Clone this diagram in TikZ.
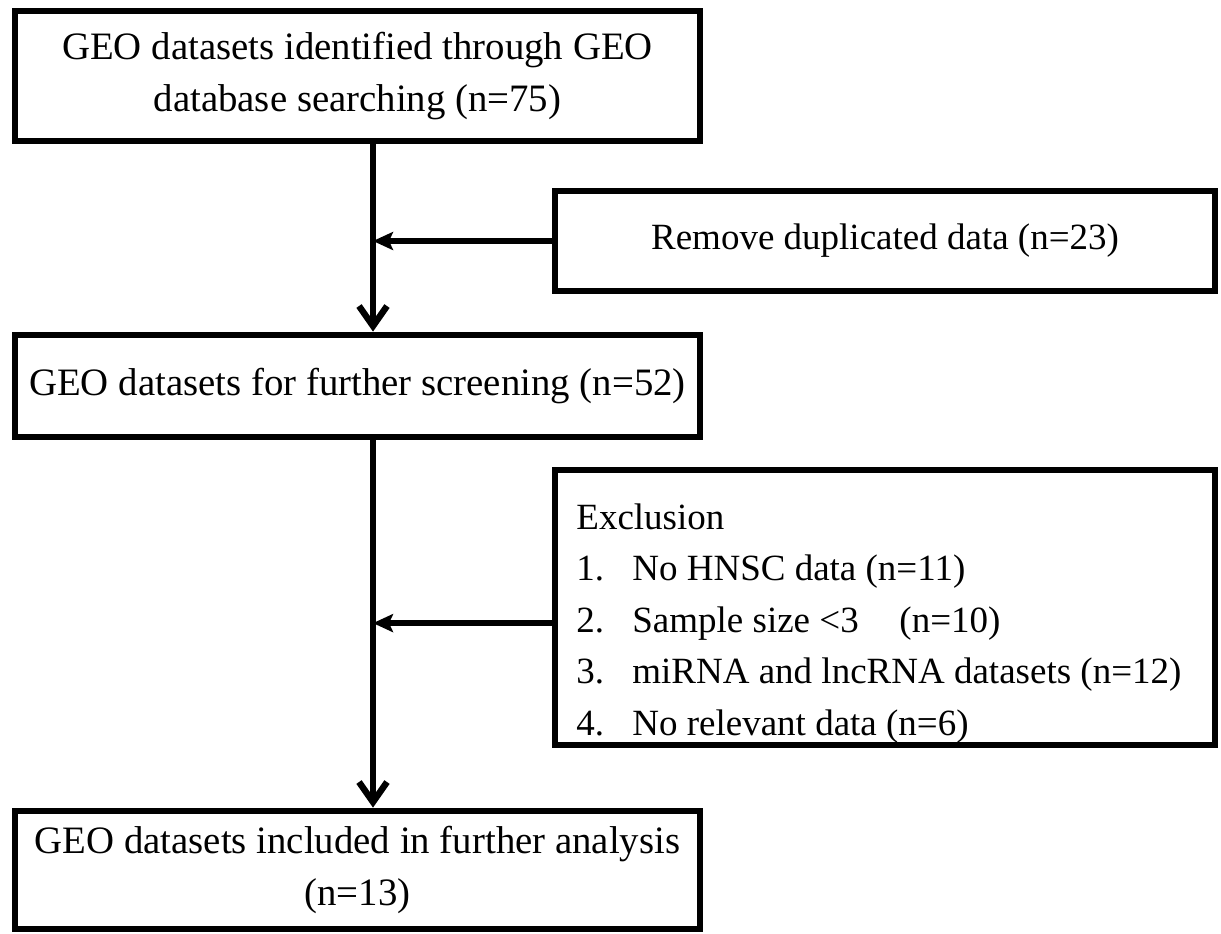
\documentclass[tikz,border=0pt]{standalone}
\usepackage{fontspec}
\setmainfont{Liberation Serif}
\usetikzlibrary{arrows.meta}

\begin{document}
\begin{tikzpicture}[x=0.5pt,y=-0.5pt,
    stage/.style={draw,line width=3.4pt,inner sep=0pt,align=center,
      font=\fontsize{19.4}{26}\selectfont},
    side/.style={stage,minimum width=330pt,font=\fontsize{18.5}{26}\selectfont},
    flow/.style={line width=3.2pt,-{Straight Barb[length=10pt,width=14pt]}},
    drop/.style={line width=3.2pt,-{Stealth[length=10pt,width=9pt,inset=2pt]}},
    item/.style={anchor=base west,inner sep=0pt,font=\fontsize{18.5}{26}\selectfont}]
  \useasboundingbox (0,0) rectangle (1221,933);

  % boxes
  \node[stage,minimum width=342.5pt,minimum height=65pt] (ident) at (357.5,76)
    {GEO datasets identified through GEO\\database searching (n=75)};
  \node[side,minimum height=50pt] (dup) at (885,241)
    {Remove duplicated data (n=23)};
  \node[stage,minimum width=342.5pt,minimum height=51pt] (screen) at (357.5,386)
    {GEO datasets for further screening (n=52)};
  \node[side,minimum height=137.5pt] (excl) at (885,607.5) {};
  \node[stage,minimum width=342.5pt,minimum height=59pt] (incl) at (357.5,870)
    {GEO datasets included in further analysis\\(n=13)};

  % exclusion list
  \begin{scope}
    \clip (558.5,473.5) rectangle (1211.5,741.5);
    \node[item] (exhead) at (576,529) {Exclusion};
    \foreach \txt [count=\k] in {No HNSC data (n=11),
        Sample size <3\hspace{1.1em}(n=10),
        miRNA and lncRNA datasets (n=12),
        No relevant data (n=6)}
      \node[item] (exitem\k) at (576,{529+51.5*\k}) {\makebox[28pt][l]{\k.}\txt};
  \end{scope}

  % connectors
  \coordinate (spine) at (373,0);
  \coordinate (j1) at (spine |- dup.west);
  \coordinate (j2) at (spine |- exitem2);
  \draw[flow] (spine |- ident.south) -- (spine |- screen.north);
  \draw[drop] (dup.west) -- (j1);
  \draw[flow] (spine |- screen.south) -- (spine |- incl.north);
  \draw[drop] (excl.west |- j2) -- (j2);
\end{tikzpicture}
\end{document}
